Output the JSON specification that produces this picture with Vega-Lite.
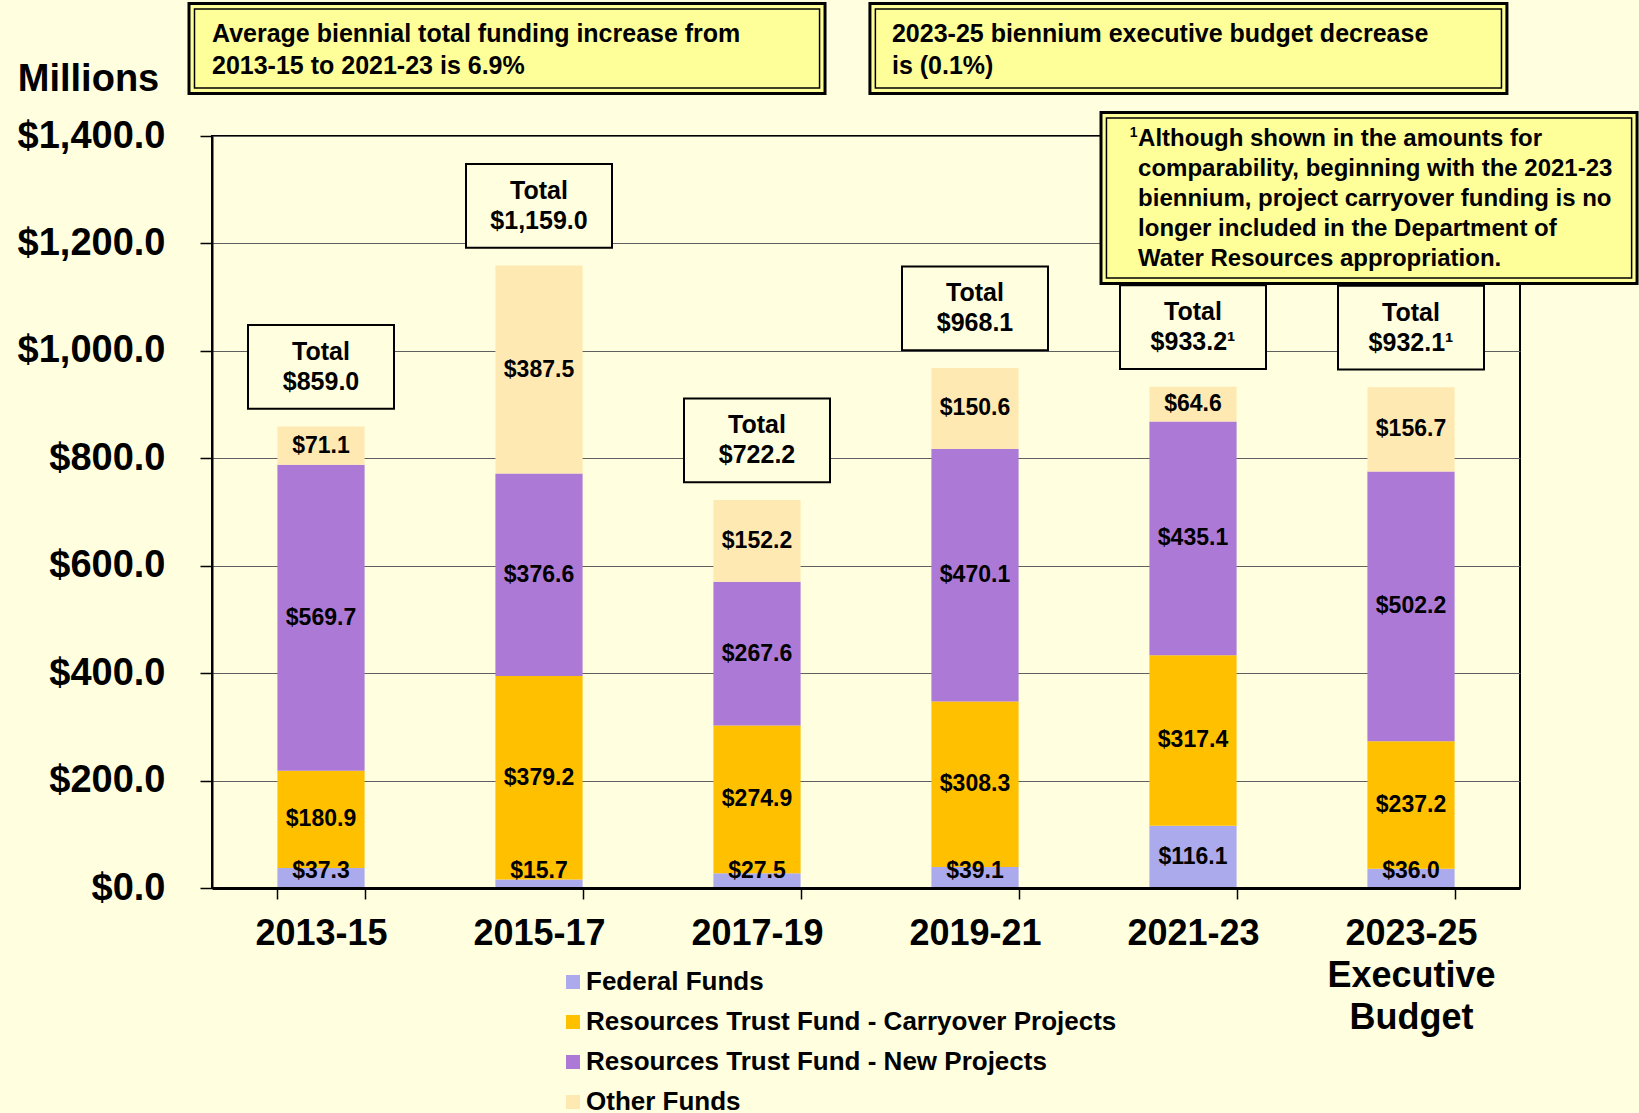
{
  "$schema": "https://vega.github.io/schema/vega-lite/v6.json",
  "width": 1308,
  "height": 752,
  "autosize": {"type": "none"},
  "padding": {"left": 212, "top": 136, "right": 119, "bottom": 225},
  "background": "#FFFFE0",
  "config": {
    "font": "Liberation Sans",
    "view": {"stroke": "black", "strokeWidth": 2}
  },
  "data": {"values": [{}]},
  "datasets": {
    "funds": [
      {"period": "2013-15", "fund": "Federal Funds", "amount": 37.3},
      {"period": "2013-15", "fund": "Resources Trust Fund - Carryover Projects", "amount": 180.9},
      {"period": "2013-15", "fund": "Resources Trust Fund - New Projects", "amount": 569.7},
      {"period": "2013-15", "fund": "Other Funds", "amount": 71.1},
      {"period": "2015-17", "fund": "Federal Funds", "amount": 15.7},
      {"period": "2015-17", "fund": "Resources Trust Fund - Carryover Projects", "amount": 379.2},
      {"period": "2015-17", "fund": "Resources Trust Fund - New Projects", "amount": 376.6},
      {"period": "2015-17", "fund": "Other Funds", "amount": 387.5},
      {"period": "2017-19", "fund": "Federal Funds", "amount": 27.5},
      {"period": "2017-19", "fund": "Resources Trust Fund - Carryover Projects", "amount": 274.9},
      {"period": "2017-19", "fund": "Resources Trust Fund - New Projects", "amount": 267.6},
      {"period": "2017-19", "fund": "Other Funds", "amount": 152.2},
      {"period": "2019-21", "fund": "Federal Funds", "amount": 39.1},
      {"period": "2019-21", "fund": "Resources Trust Fund - Carryover Projects", "amount": 308.3},
      {"period": "2019-21", "fund": "Resources Trust Fund - New Projects", "amount": 470.1},
      {"period": "2019-21", "fund": "Other Funds", "amount": 150.6},
      {"period": "2021-23", "fund": "Federal Funds", "amount": 116.1},
      {"period": "2021-23", "fund": "Resources Trust Fund - Carryover Projects", "amount": 317.4},
      {"period": "2021-23", "fund": "Resources Trust Fund - New Projects", "amount": 435.1},
      {"period": "2021-23", "fund": "Other Funds", "amount": 64.6},
      {"period": "2023-25 Executive Budget", "fund": "Federal Funds", "amount": 36.0},
      {"period": "2023-25 Executive Budget", "fund": "Resources Trust Fund - Carryover Projects", "amount": 237.2},
      {"period": "2023-25 Executive Budget", "fund": "Resources Trust Fund - New Projects", "amount": 502.2},
      {"period": "2023-25 Executive Budget", "fund": "Other Funds", "amount": 156.7}
    ],
    "totals": [
      {"period": "2013-15", "total": 859.0, "note": ""},
      {"period": "2015-17", "total": 1159.0, "note": ""},
      {"period": "2017-19", "total": 722.2, "note": ""},
      {"period": "2019-21", "total": 968.1, "note": ""},
      {"period": "2021-23", "total": 933.2, "note": "¹"},
      {"period": "2023-25 Executive Budget", "total": 932.1, "note": "¹"}
    ]
  },
  "resolve": {"scale": {"x": "independent"}},
  "layer": [
    {
      "layer": [
        {
          "data": {"name": "funds"},
          "transform": [
            {"calculate": "indexof(['Federal Funds','Resources Trust Fund - Carryover Projects','Resources Trust Fund - New Projects','Other Funds'], datum.fund)", "as": "k"}
          ],
          "mark": {"type": "bar"},
          "encoding": {
            "x": {
              "field": "period", "type": "nominal",
              "scale": {"paddingInner": 0.6, "paddingOuter": 0.3},
              "axis": {
                "title": null, "labelAngle": 0, "labelFontSize": 36, "labelFontWeight": "bold", "labelColor": "black",
                "labelPadding": 17, "labelLineHeight": 42,
                "labelExpr": "datum.value == '2023-25 Executive Budget' ? ['2023-25','Executive','Budget'] : datum.label",
                "tickBand": "extent", "tickSize": 11, "tickColor": "black", "tickWidth": 1.5,
                "domainColor": "black", "domainWidth": 3, "zindex": 1, "labelOverlap": false
              }
            },
            "y": {
              "field": "amount", "type": "quantitative", "stack": "zero",
              "scale": {"domain": [0, 1400], "nice": false},
              "axis": {
                "values": [0, 200, 400, 600, 800, 1000, 1200, 1400], "format": "$,.1f",
                "title": "Millions", "titleAngle": 0, "titleX": -124, "titleY": -46, "titleAlign": "center",
                "titleBaseline": "alphabetic", "titleFontSize": 38, "titleFontWeight": "bold", "titleColor": "black",
                "labelFontSize": 38, "labelFontWeight": "bold", "labelColor": "black", "labelPadding": 35,
                "tickSize": 12, "tickColor": "black", "tickWidth": 1.5,
                "grid": true, "gridColor": "#606060", "gridWidth": 1,
                "domainColor": "black", "domainWidth": 2
              }
            },
            "color": {
              "field": "fund", "type": "nominal",
              "sort": ["Federal Funds", "Resources Trust Fund - Carryover Projects", "Resources Trust Fund - New Projects", "Other Funds"],
              "scale": {
                "domain": ["Federal Funds", "Resources Trust Fund - Carryover Projects", "Resources Trust Fund - New Projects", "Other Funds"],
                "range": ["#ABAAEC", "#FFC000", "#AD79D6", "#FFE9B2"]
              },
              "legend": {
                "title": null, "orient": "none", "legendX": 348, "legendY": 833, "direction": "vertical",
                "symbolType": "square", "symbolSize": 196, "symbolStrokeWidth": 0, "symbolOpacity": 1,
                "labelFontSize": 26, "labelFontWeight": "bold", "labelColor": "black", "labelOffset": 0,
                "rowPadding": 14, "padding": 0, "labelLimit": 0
              }
            },
            "order": {"field": "k", "type": "quantitative"}
          }
        },
        {
          "data": {"name": "funds"},
          "transform": [
            {"calculate": "indexof(['Federal Funds','Resources Trust Fund - Carryover Projects','Resources Trust Fund - New Projects','Other Funds'], datum.fund)", "as": "k"},
            {"stack": "amount", "groupby": ["period"], "sort": [{"field": "k", "order": "ascending"}], "as": ["y0", "y1"]},
            {"calculate": "max((datum.y0 + datum.y1) / 2, 32)", "as": "mid"}
          ],
          "mark": {"type": "text", "fontSize": 23, "fontWeight": "bold", "color": "black", "align": "center", "baseline": "middle"},
          "encoding": {
            "x": {"field": "period", "type": "nominal"},
            "y": {"field": "mid", "type": "quantitative"},
            "text": {"field": "amount", "type": "quantitative", "format": "$,.1f"}
          }
        },
        {
          "data": {"name": "totals"},
          "transform": [
            {"calculate": "datum.total + 33", "as": "b0"},
            {"calculate": "datum.total + 189", "as": "b1"}
          ],
          "mark": {"type": "bar", "width": 146, "fill": "#FFFFE0", "stroke": "black", "strokeWidth": 2},
          "encoding": {
            "x": {"field": "period", "type": "nominal"},
            "y": {"field": "b0", "type": "quantitative"},
            "y2": {"field": "b1"}
          }
        },
        {
          "data": {"name": "totals"},
          "transform": [
            {"calculate": "datum.total + 139", "as": "tc"},
            {"calculate": "'Total\\n' + format(datum.total, '$,.1f') + datum.note", "as": "lbl"}
          ],
          "mark": {"type": "text", "fontSize": 25, "fontWeight": "bold", "color": "black", "align": "center", "baseline": "middle", "lineBreak": "\n", "lineHeight": 30},
          "encoding": {
            "x": {"field": "period", "type": "nominal"},
            "y": {"field": "tc", "type": "quantitative"},
            "text": {"field": "lbl", "type": "nominal"}
          }
        }
      ]
    },
    {
      "layer": [
        {
          "mark": {"type": "rect", "fill": "#FFFF99", "stroke": "black", "strokeWidth": 3},
          "encoding": {
            "x": {"datum": -0.1055, "type": "quantitative", "scale": {"domain": [0, 6], "nice": false, "zero": false}, "axis": null},
            "x2": {"datum": 2.812},
            "y": {"datum": 1646.5, "type": "quantitative"},
            "y2": {"datum": 1479}
          }
        },
        {
          "mark": {"type": "rect", "fill": null, "fillOpacity": 0, "stroke": "black", "strokeWidth": 1.5},
          "encoding": {
            "x": {"datum": -0.0803, "type": "quantitative", "axis": null},
            "x2": {"datum": 2.787},
            "y": {"datum": 1636.3, "type": "quantitative"},
            "y2": {"datum": 1489.2}
          }
        },
        {
          "mark": {"type": "text", "text": "Average biennial total funding increase from\n2013-15 to 2021-23 is 6.9%", "lineBreak": "\n", "lineHeight": 32, "align": "left", "baseline": "middle", "fontSize": 25, "fontWeight": "bold", "color": "black"},
          "encoding": {
            "x": {"datum": 0.0, "type": "quantitative", "axis": null},
            "y": {"datum": 1590.7, "type": "quantitative"}
          }
        },
        {
          "mark": {"type": "rect", "fill": "#FFFF99", "stroke": "black", "strokeWidth": 3},
          "encoding": {
            "x": {"datum": 3.018, "type": "quantitative", "axis": null},
            "x2": {"datum": 5.940},
            "y": {"datum": 1646.5, "type": "quantitative"},
            "y2": {"datum": 1479}
          }
        },
        {
          "mark": {"type": "rect", "fill": null, "fillOpacity": 0, "stroke": "black", "strokeWidth": 1.5},
          "encoding": {
            "x": {"datum": 3.043, "type": "quantitative", "axis": null},
            "x2": {"datum": 5.915},
            "y": {"datum": 1636.3, "type": "quantitative"},
            "y2": {"datum": 1489.2}
          }
        },
        {
          "mark": {"type": "text", "text": "2023-25 biennium executive budget decrease\nis (0.1%)", "lineBreak": "\n", "lineHeight": 32, "align": "left", "baseline": "middle", "fontSize": 25, "fontWeight": "bold", "color": "black"},
          "encoding": {
            "x": {"datum": 3.119, "type": "quantitative", "axis": null},
            "y": {"datum": 1590.7, "type": "quantitative"}
          }
        },
        {
          "mark": {"type": "rect", "fill": "#FFFF99", "stroke": "black", "strokeWidth": 3},
          "encoding": {
            "x": {"datum": 4.078, "type": "quantitative", "axis": null},
            "x2": {"datum": 6.537},
            "y": {"datum": 1443.7, "type": "quantitative"},
            "y2": {"datum": 1125.6}
          }
        },
        {
          "mark": {"type": "rect", "fill": null, "fillOpacity": 0, "stroke": "black", "strokeWidth": 1.5},
          "encoding": {
            "x": {"datum": 4.103, "type": "quantitative", "axis": null},
            "x2": {"datum": 6.512},
            "y": {"datum": 1433.5, "type": "quantitative"},
            "y2": {"datum": 1135.8}
          }
        },
        {
          "mark": {"type": "text", "text": "Although shown in the amounts for\ncomparability, beginning with the 2021-23\nbiennium, project carryover funding is no\nlonger included in the Department of\nWater Resources appropriation.", "lineBreak": "\n", "lineHeight": 30, "align": "left", "baseline": "middle", "fontSize": 24, "fontWeight": "bold", "color": "black"},
          "encoding": {
            "x": {"datum": 4.248, "type": "quantitative", "axis": null},
            "y": {"datum": 1395.3, "type": "quantitative"}
          }
        },
        {
          "mark": {"type": "text", "text": "1", "align": "left", "baseline": "middle", "fontSize": 14, "fontWeight": "bold", "color": "black"},
          "encoding": {
            "x": {"datum": 4.21, "type": "quantitative", "axis": null},
            "y": {"datum": 1404.7, "type": "quantitative"}
          }
        }
      ]
    }
  ]
}
